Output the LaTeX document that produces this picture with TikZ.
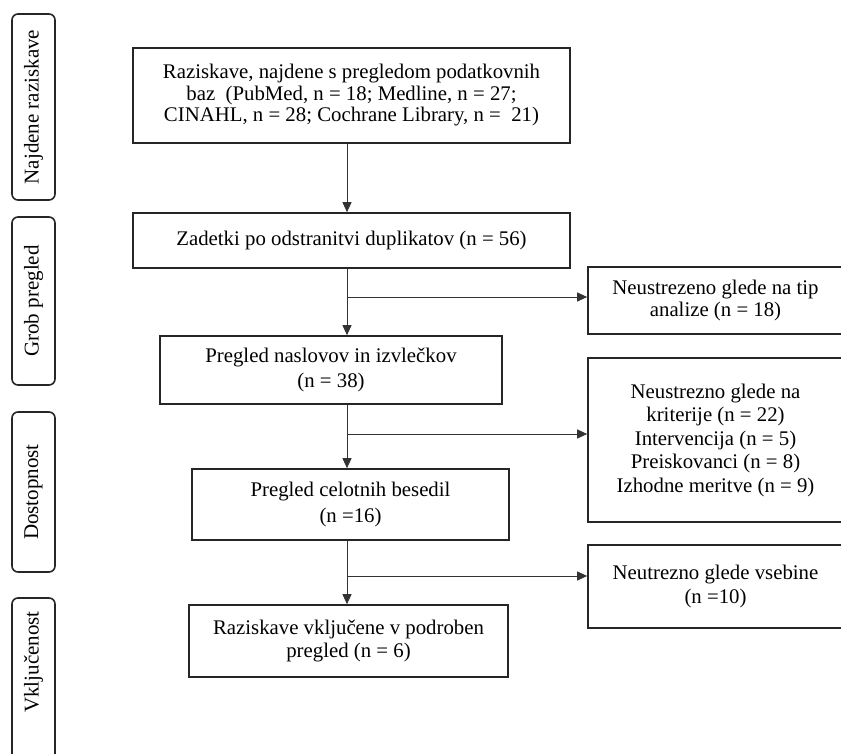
\documentclass[tikz,border=0pt]{standalone}
\usepackage{fontspec}
\setmainfont{Liberation Serif}
\usetikzlibrary{arrows.meta}

\tikzset{
  box/.style={draw=black!85, line width=1.6pt, inner sep=0pt, align=center,
    font=\fontsize{20.8}{23.6}\selectfont},
  lskip/.style={font=\fontsize{20.8}{#1}\selectfont},
  stage/.style={draw=black!85, line width=1.6pt, rounded corners=6pt, rotate=90,
    minimum height=43pt, inner sep=0pt, font=\fontsize{21}{24}\selectfont},
  arr/.style={draw=black!80, line width=0.9pt, -{Triangle[length=10pt,width=9pt]}}
}

\begin{document}
\begin{tikzpicture}[x=1pt, y=-1pt]
  \useasboundingbox (0,0) rectangle (841,754);
  % faze na levi
  \node[stage, minimum width=186pt] (najdene) at (33.5,107) {Najdene raziskave};
  \node[stage, minimum width=168pt] (grob) at (33.5,301) {Grob pregled};
  \node[stage, minimum width=160pt] (dostop) at (33.5,492) {Dostopnost};
  \node[stage, minimum width=172pt] (vklj) at (33.5,684) {\hspace*{44pt}Vklju\v{c}enost};
  % glavni stolpec
  \node[box, lskip=21.5, minimum width=437pt, minimum height=95pt] (search) at (351.5,95.5)
    {Raziskave, najdene s pregledom podatkovnih\\baz\ \ (PubMed, n = 18; Medline, n = 27;\\CINAHL, n = 28; Cochrane Library, n =\ \ 21)};
  \node[box, minimum width=437pt, minimum height=55pt] (dedup) at (351.5,240.5)
    {Zadetki po odstranitvi duplikatov (n = 56)};
  \node[box, lskip=25, minimum width=342pt, minimum height=68pt] (screen) at (331,370)
    {Pregled naslovov in izvle\v{c}kov\\(n = 38)};
  \node[box, lskip=26, minimum width=317pt, minimum height=71pt] (full) at (350.5,504.5)
    {Pregled celotnih besedil\\(n =16)};
  \node[box, lskip=23, minimum width=319pt, minimum height=72pt] (incl) at (348.5,641)
    {Raziskave vklju\v{c}ene v podroben\\pregled (n = 6)};
  % izlocene
  \node[box, lskip=22, minimum width=255pt, minimum height=67pt] (excl1) at (715.5,300.5)
    {Neustrezeno glede na tip\\analize (n = 18)};
  \node[box, lskip=23.5, minimum width=255pt, minimum height=164pt] (excl2) at (715.5,440)
    {Neustrezno glede na\\kriterije (n = 22)\\Intervencija (n = 5)\\Preiskovanci (n = 8)\\Izhodne meritve (n = 9)};
  \node[box, lskip=24, minimum width=255pt, minimum height=83pt] (excl3) at (715.5,586.5)
    {Neutrezno glede vsebine\\(n =10)};
  % povezave
  \coordinate (spine) at (347,0);
  \coordinate (b1) at (347,297);
  \coordinate (b2) at (347,434);
  \coordinate (b3) at (347,576);
  \draw[arr] (search.south -| spine) -- (dedup.north -| spine);
  \draw[arr] (dedup.south -| spine) -- (screen.north -| spine);
  \draw[arr] (screen.south -| spine) -- (full.north -| spine);
  \draw[arr] (full.south -| spine) -- (incl.north -| spine);
  \draw[arr] (b1) -- (b1 -| excl1.west);
  \draw[arr] (b2) -- (b2 -| excl2.west);
  \draw[arr] (b3) -- (b3 -| excl3.west);
\end{tikzpicture}
\end{document}
